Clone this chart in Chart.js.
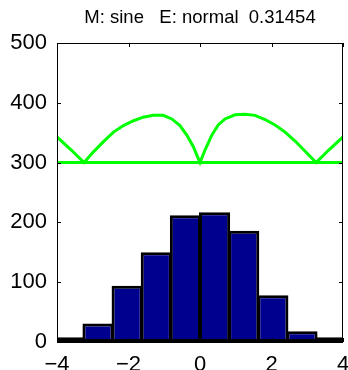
<!DOCTYPE html>
<html>
<head>
<meta charset="utf-8">
<script src="https://cdn.jsdelivr.net/npm/chart.js@4/dist/chart.umd.min.js"></script>
<style>
  html, body { margin: 0; padding: 0; background: #fff; }
  #wrap { width: 348px; height: 370px; }
</style>
</head>
<body>
<div id="wrap"><canvas id="myChart" width="348" height="370"></canvas></div>
<script>
// histogram bins (centers) and counts
const binCenters = [-3.6675, -2.8525, -2.0375, -1.2225, -0.4075, 0.4075, 1.2225, 2.0375, 2.8525, 3.6675];
const counts = [8, 31, 94, 150, 212, 217, 186, 78, 18, 8];

// green curve
const curveX = [-4, -3.6, -3.245, -2.98, -2.70, -2.42, -2.14, -1.86, -1.59, -1.31, -1.03, -0.79, -0.56, -0.37, -0.19, -0.05, 0,
                0.14, 0.33, 0.51, 0.70, 0.98, 1.26, 1.54, 1.82, 2.10, 2.38, 2.66, 2.94, 3.25, 3.6, 4];
const curveY = [343, 321, 300, 318, 335, 351, 362, 370, 376, 379, 379, 373, 362, 346, 327, 307, 300,
                321, 346, 363, 373, 380, 381, 379, 372, 363, 351, 336, 319, 300, 321, 343];

// flat green line
const levelX = [-4, 4];
const levelY = [300, 300];

const xTickValues = [-4, -2, 0, 2, 4];
const xTickLabels = ['\u22124', '\u22122', '0', '2', '4'];
const yTickValues = [0, 100, 200, 300, 400, 500];

const titleText = 'M: sine   E: normal  0.31454';
const fontFamily = '"Liberation Sans", Arial, sans-serif';

// box around the axes with small inward ticks (matlab style)
const framePlugin = {
  id: 'frame',
  afterDraw(chart) {
    const { ctx, chartArea: a, scales } = chart;
    ctx.save();
    ctx.strokeStyle = '#000';
    ctx.lineWidth = 1;
    ctx.strokeRect(a.left + 0.5, a.top + 0.5, a.right - a.left - 1, a.bottom - a.top);
    const len = 4;
    ctx.beginPath();
    xTickValues.forEach(v => {
      const px = Math.round(scales.x.getPixelForValue(v)) + 0.5;
      ctx.moveTo(px, a.top); ctx.lineTo(px, a.top + len);
      ctx.moveTo(px, a.bottom); ctx.lineTo(px, a.bottom - len);
    });
    yTickValues.forEach(v => {
      const py = Math.round(scales.y.getPixelForValue(v)) + 0.5;
      ctx.moveTo(a.left, py); ctx.lineTo(a.left + len, py);
      ctx.moveTo(a.right, py); ctx.lineTo(a.right - len, py);
    });
    ctx.stroke();
    ctx.restore();
  }
};

const ctx = document.getElementById('myChart');

new Chart(ctx, {
  type: 'bar',
  data: {
    datasets: [
      {
        type: 'line',
        data: curveX.map((x, i) => ({ x: x, y: curveY[i] })),
        borderColor: '#00ff00',
        borderWidth: 3,
        pointRadius: 0,
        tension: 0,
        fill: false,
        order: 0
      },
      {
        type: 'line',
        data: levelX.map((x, i) => ({ x: x, y: levelY[i] })),
        borderColor: '#00ff00',
        borderWidth: 3,
        pointRadius: 0,
        tension: 0,
        fill: false,
        order: 0
      },
      {
        type: 'bar',
        data: binCenters.map((x, i) => ({ x: x, y: counts[i] })),
        backgroundColor: '#00008f',
        borderColor: '#000',
        borderWidth: 3,
        borderSkipped: false,
        inflateAmount: 0,
        barPercentage: 1.07,
        categoryPercentage: 1,
        clip: 0,
        order: 1
      }
    ]
  },
  options: {
    responsive: false,
    animation: false,
    layout: { padding: { left: 0, right: 5, top: 0, bottom: 0 } },
    plugins: {
      legend: { display: false },
      tooltip: { enabled: false },
      title: {
        display: true,
        text: titleText,
        fullSize: false,
        color: '#000',
        font: { family: fontFamily, size: 18.5, weight: 'normal' },
        padding: { top: 7, bottom: 13.8 }
      }
    },
    scales: {
      x: {
        type: 'linear',
        min: -4,
        max: 4,
        offset: false,
        grid: { display: false, offset: false, drawTicks: false },
        border: { display: false },
        afterBuildTicks: s => { s.ticks = xTickValues.map(v => ({ value: v })); },
        ticks: {
          color: '#000',
          padding: 10,
          maxRotation: 0,
          font: { family: fontFamily, size: 22 },
          callback: v => xTickLabels[xTickValues.indexOf(v)]
        },
        afterFit: s => { s.height = 28; s.paddingLeft = 0; s.paddingRight = 0; }
      },
      y: {
        min: 0,
        max: 500,
        grid: { display: false, drawTicks: false },
        border: { display: false },
        afterBuildTicks: s => { s.ticks = yTickValues.map(v => ({ value: v })); },
        ticks: {
          color: '#000',
          padding: 10,
          font: { family: fontFamily, size: 22 }
        },
        afterFit: s => { s.width = 57; s.paddingTop = 0; s.paddingBottom = 0; }
      }
    }
  },
  plugins: [framePlugin]
});
</script>
</body>
</html>
